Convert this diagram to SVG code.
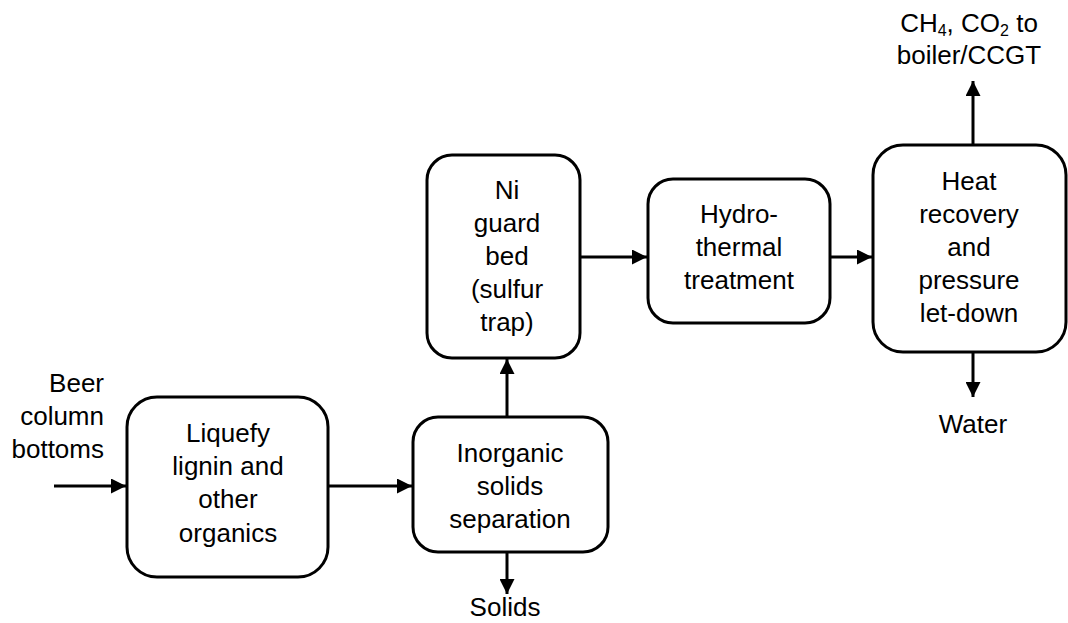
<svg xmlns="http://www.w3.org/2000/svg" width="1068" height="623" viewBox="0 0 1068 623">
<style>
.box{fill:#fff;stroke:#000;stroke-width:3}
.t{font-family:"Liberation Sans",Arial,sans-serif;font-size:26px;fill:#000;text-anchor:middle}
.c{stroke:#000;stroke-width:3;fill:none;marker-end:url(#ah)}
</style>
<defs>
<marker id="ah" viewBox="0 0 10 10" refX="10" refY="5" markerWidth="5.3" markerHeight="5" markerUnits="strokeWidth" orient="auto">
<path d="M0,0 L10,5 L0,10 z" fill="#000"/>
</marker>
</defs>
<g id="connectors">
<line class="c" x1="54" y1="486" x2="126" y2="486"/>
<line class="c" x1="329" y1="486" x2="412" y2="486"/>
<line class="c" x1="507" y1="417" x2="507" y2="359"/>
<line class="c" x1="581" y1="257" x2="647" y2="257"/>
<line class="c" x1="831" y1="257" x2="872" y2="257"/>
<line class="c" x1="973" y1="145" x2="973" y2="81"/>
<line class="c" x1="973" y1="353" x2="973" y2="397"/>
<line class="c" x1="507" y1="553" x2="507" y2="594"/>
</g>
<g id="input-label">
<text class="t" style="text-anchor:end" x="104" y="392">Beer</text>
<text class="t" style="text-anchor:end" x="104" y="425">column</text>
<text class="t" style="text-anchor:end" x="104" y="458">bottoms</text>
</g>
<g id="liquefy">
<rect class="box" x="127" y="397" width="201" height="180" rx="30"/>
<text class="t" x="228" y="442">Liquefy</text>
<text class="t" x="228" y="475">lignin and</text>
<text class="t" x="228" y="508">other</text>
<text class="t" x="228" y="542">organics</text>
</g>
<g id="inorganic">
<rect class="box" x="413" y="417" width="195" height="135" rx="25"/>
<text class="t" x="510" y="462">Inorganic</text>
<text class="t" x="510" y="495">solids</text>
<text class="t" x="510" y="528">separation</text>
</g>
<g id="solids-label">
<text class="t" x="505" y="616">Solids</text>
</g>
<g id="ni-guard">
<rect class="box" x="427" y="155" width="153" height="203" rx="25"/>
<text class="t" x="507" y="199">Ni</text>
<text class="t" x="507" y="232">guard</text>
<text class="t" x="507" y="265">bed</text>
<text class="t" x="507" y="298">(sulfur</text>
<text class="t" x="507" y="331">trap)</text>
</g>
<g id="hydrothermal">
<rect class="box" x="648" y="179" width="182" height="144" rx="25"/>
<text class="t" x="739" y="223">Hydro-</text>
<text class="t" x="739" y="256">thermal</text>
<text class="t" x="739" y="289">treatment</text>
</g>
<g id="heat-recovery">
<rect class="box" x="873" y="145" width="193" height="207" rx="30"/>
<text class="t" x="969" y="190">Heat</text>
<text class="t" x="969" y="223">recovery</text>
<text class="t" x="969" y="256">and</text>
<text class="t" x="969" y="289">pressure</text>
<text class="t" x="969" y="322">let-down</text>
</g>
<g id="gas-label">
<text class="t" x="969" y="32">CH<tspan font-size="16" dy="4">4</tspan><tspan dy="-4">, CO</tspan><tspan font-size="16" dy="4">2</tspan><tspan dy="-4"> to</tspan></text>
<text class="t" x="969" y="64">boiler/CCGT</text>
</g>
<g id="water-label">
<text class="t" x="973" y="433">Water</text>
</g>
</svg>
